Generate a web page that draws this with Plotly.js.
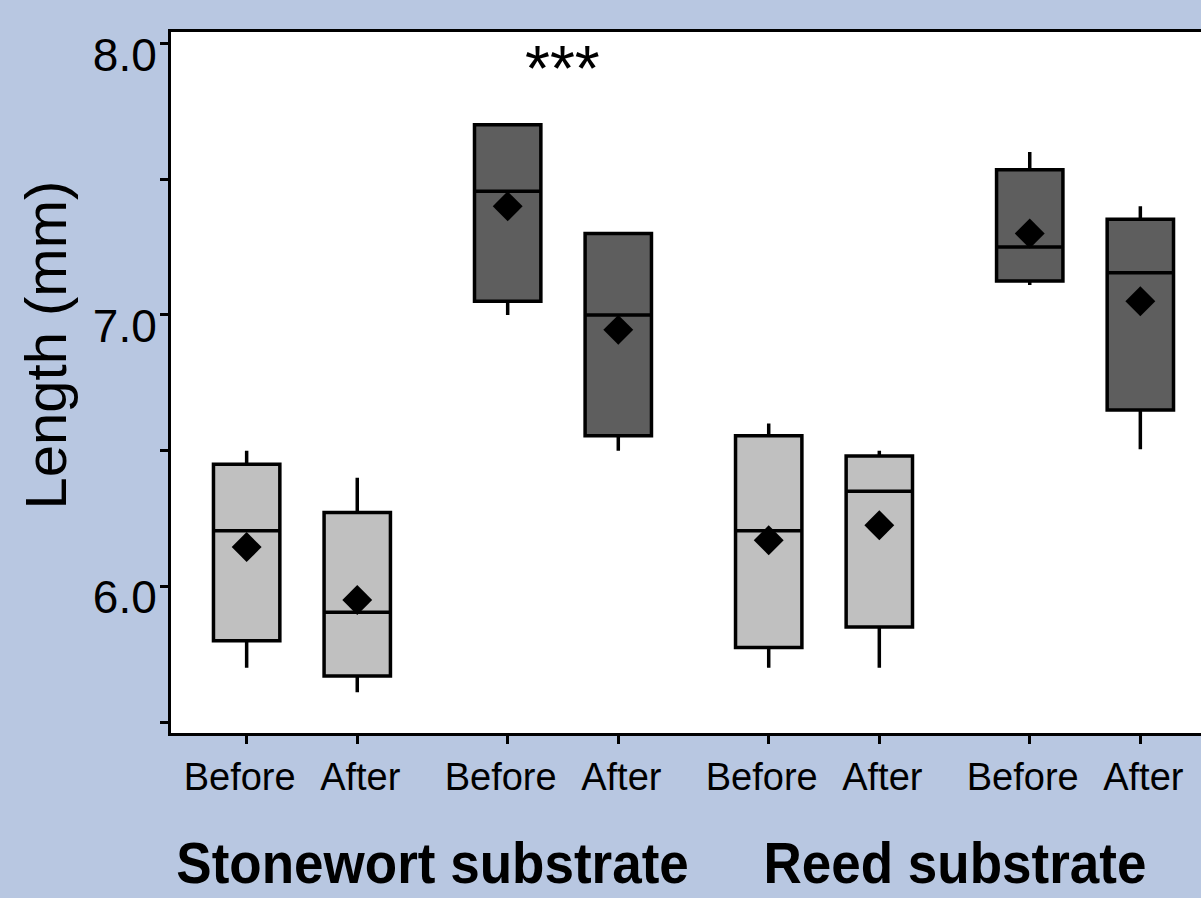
<!DOCTYPE html>
<html>
<head>
<meta charset="utf-8">
<script src="https://cdn.plot.ly/plotly-3.0.1.min.js"></script>
<style>
html, body { margin: 0; padding: 0; overflow: hidden; background: #b8c7e1; }
#chart { width: 1230px; height: 898px; }
</style>
</head>
<body>
<div id="chart"></div>
<script>
// ---- data ----
const conditions = ['Before', 'After', 'Before', 'After', 'Before', 'After', 'Before', 'After'];
const substrates = ['Stonewort substrate', 'Reed substrate'];
const sizeClass = ['light', 'light', 'dark', 'dark', 'light', 'light', 'dark', 'dark'];
const lowerWhisker = [5.70, 5.61, 7.00, 6.50, 5.70, 5.70, 7.11, 6.505];
const q1 = [5.80, 5.67, 7.05, 6.555, 5.775, 5.85, 7.125, 6.65];
const median = [6.205, 5.905, 7.455, 7.00, 6.205, 6.35, 7.25, 7.155];
const q3 = [6.45, 6.272, 7.70, 7.30, 6.555, 6.48, 7.535, 7.352];
const upperWhisker = [6.50, 6.40, 7.70, 7.30, 6.60, 6.50, 7.60, 7.40];
const means = [6.145, 5.95, 7.40, 6.945, 6.17, 6.225, 7.30, 7.05];
const significance = ['', '***', '', ''];   // one per before/after pair
const yTickVals = [5.5, 6.0, 6.5, 7.0, 7.5, 8.0];
const yTickText = ['', '6.0', '', '7.0', '', '8.0'];

// ---- layout helpers ----
const pairStep = 2.36;          // distance between pair starts (in units of within-pair spacing)
const xpos = conditions.map((c, i) => Math.floor(i / 2) * pairStep + (i % 2));
const fills = { light: '#c0c0c0', dark: '#5e5e5e' };
const sans = 'Liberation Sans, Arial, Helvetica, sans-serif';
const labelNudge = { Before: -7, After: 3 };   // reference labels sit slightly off their ticks

function boxTrace(cls) {
  const idx = sizeClass.map((s, i) => s === cls ? i : -1).filter(i => i >= 0);
  return {
    type: 'box',
    x: idx.map(i => xpos[i]),
    q1: idx.map(i => q1[i]),
    median: idx.map(i => median[i]),
    q3: idx.map(i => q3[i]),
    lowerfence: idx.map(i => lowerWhisker[i]),
    upperfence: idx.map(i => upperWhisker[i]),
    width: 0.6,
    whiskerwidth: 0,
    fillcolor: fills[cls],
    line: { color: '#000', width: 3.5 },
    boxpoints: false,
    hoverinfo: 'skip',
    showlegend: false
  };
}

const meanTrace = {
  type: 'scatter',
  mode: 'markers',
  x: xpos,
  y: means,
  marker: { symbol: 'diamond', size: 23, color: '#000', line: { width: 0 } },
  hoverinfo: 'skip',
  showlegend: false
};

const annotations = [];
substrates.forEach((s, g) => {
  const a = xpos[g * 4], b = xpos[g * 4 + 3];
  annotations.push({
    text: s, xref: 'x', yref: 'paper',
    x: (a + b) / 2, y: -0.186, xanchor: 'center', yanchor: 'middle',
    showarrow: false, font: { family: sans, size: 57, weight: 'bold', color: '#000' }
  });
});
significance.forEach((t, p) => {
  if (!t) return;
  annotations.push({
    text: t, xref: 'x', yref: 'y',
    x: (xpos[p * 2] + xpos[p * 2 + 1]) / 2, y: 7.905, xanchor: 'center', yanchor: 'middle',
    showarrow: false, font: { family: sans, size: 64, color: '#000' }
  });
});
annotations.push({
  text: 'Length (mm)', xref: 'paper', yref: 'paper', x: -0.1202, y: 0.5535,
  xanchor: 'center', yanchor: 'middle', textangle: -90, showarrow: false,
  font: { family: sans, size: 58, color: '#000' }
});

const layout = {
  width: 1230, height: 898,
  paper_bgcolor: '#b8c7e1', plot_bgcolor: '#ffffff',
  margin: { l: 171, r: 15, t: 32, b: 165 },
  xaxis: {
    range: [-0.684, 8.755], tickvals: xpos, ticktext: conditions, tickangle: 0,
    showgrid: false, zeroline: false, showline: true, mirror: true,
    linecolor: '#000', linewidth: 3, ticks: 'outside', ticklen: 8, tickwidth: 3, tickcolor: '#000',
    tickfont: { family: sans, size: 38, color: '#000' }
  },
  yaxis: {
    range: [5.460, 8.042], tickvals: yTickVals, ticktext: yTickText,
    showgrid: false, zeroline: false, showline: true, mirror: true,
    linecolor: '#000', linewidth: 3, ticks: 'outside', ticklen: 8, tickwidth: 3, tickcolor: '#000',
    ticklabelstandoff: -6, ticklabelshift: 11,
    tickfont: { family: sans, size: 46, color: '#000' }
  },
  annotations: annotations
};

Plotly.newPlot('chart', [boxTrace('light'), boxTrace('dark'), meanTrace], layout, { staticPlot: true })
  .then(() => {
    // the reference uses a slightly condensed bold face for the group labels
    document.querySelectorAll('.annotation-text').forEach(el => {
      if (substrates.indexOf(el.textContent) >= 0) {
        const w = el.getComputedTextLength();
        el.setAttribute('textLength', (w * 0.93).toFixed(1));
        el.setAttribute('lengthAdjust', 'spacingAndGlyphs');
      }
    });
    document.querySelectorAll('.xtick text').forEach(el => {
      const d = labelNudge[el.textContent];
      if (d) el.setAttribute('transform', (el.getAttribute('transform') || '') + ' translate(' + d + ',0)');
    });
  });
</script>
</body>
</html>
